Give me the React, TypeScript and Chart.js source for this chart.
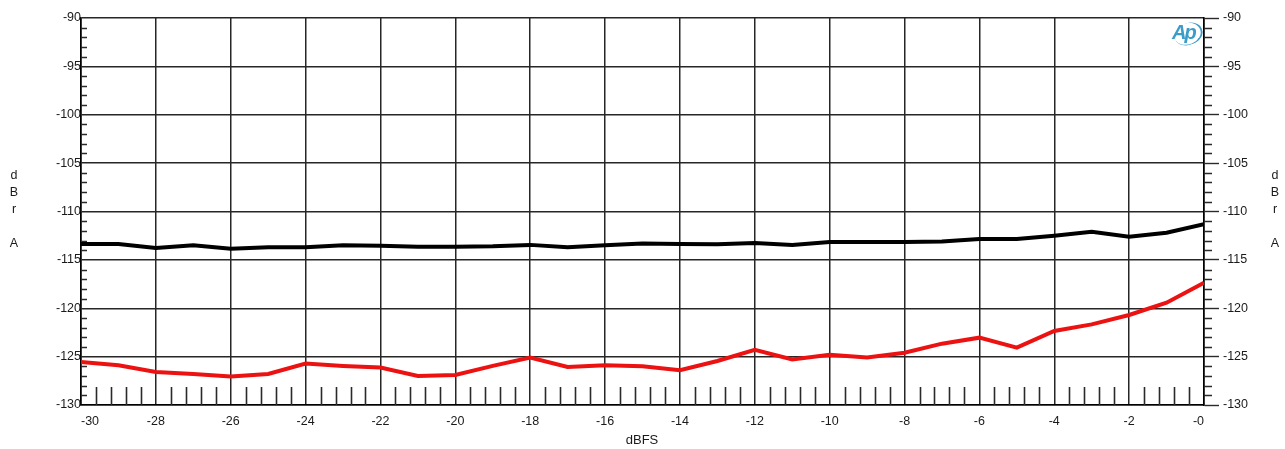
import React, { useEffect, useRef } from 'react';
import { Chart, registerables } from 'chart.js';

Chart.register(...registerables);

const xValues = [-30, -29, -28, -27, -26, -25, -24, -23, -22, -21, -20, -19, -18, -17, -16, -15, -14, -13, -12, -11, -10, -9, -8, -7, -6, -5, -4, -3, -2, -1, 0];
const blackSeries = [-113.35, -113.35, -113.76, -113.5, -113.85, -113.7, -113.7, -113.5, -113.55, -113.65, -113.65, -113.6, -113.45, -113.7, -113.5, -113.3, -113.35, -113.38, -113.25, -113.45, -113.15, -113.15, -113.15, -113.1, -112.85, -112.85, -112.5, -112.1, -112.6, -112.2, -111.3];
const redSeries = [-125.55, -125.9, -126.58, -126.8, -127.05, -126.8, -125.72, -125.96, -126.13, -127.0, -126.9, -125.96, -125.1, -126.07, -125.9, -126.0, -126.4, -125.45, -124.3, -125.3, -124.8, -125.1, -124.6, -123.66, -123.04, -124.07, -122.35, -121.67, -120.7, -119.43, -117.37];
const xTickLabels = ['-30', '-28', '-26', '-24', '-22', '-20', '-18', '-16', '-14', '-12', '-10', '-8', '-6', '-4', '-2', '-0'];
const yTickLabels = ['-130', '-125', '-120', '-115', '-110', '-105', '-100', '-95', '-90'];
const xTitle = 'dBFS';
const yTitleLines = ['d', 'B', 'r', '', 'A'];

const FONT = "'Liberation Sans', Arial, Helvetica, sans-serif";
const GRID = '#262626';
const TICK = '#2a2a2a';

const minorTicks = {
  id: 'minorTicks',
  beforeDatasetsDraw(chart: any) {
    const { ctx, chartArea } = chart;
    const y = chart.scales.y;
    const x = chart.scales.x;
    ctx.save();
    ctx.strokeStyle = TICK;
    ctx.lineWidth = 1.4;
    ctx.beginPath();
    for (let v = -129; v <= -91; v++) {
      if (v % 5 === 0) continue;
      const py = Math.round(y.getPixelForValue(v)) + 0.5;
      ctx.moveTo(chartArea.left, py);
      ctx.lineTo(chartArea.left + 6, py);
      ctx.moveTo(chartArea.right, py);
      ctx.lineTo(chartArea.right + 8, py);
    }
    ctx.stroke();
    ctx.lineWidth = 1.6;
    ctx.beginPath();
    for (let k = 0; k <= 75; k++) {
      if (k % 5 === 0) continue;
      const v = -30 + k * 0.4;
      const px = Math.round(x.getPixelForValue(v)) + 0.5;
      ctx.moveTo(px, chartArea.bottom);
      ctx.lineTo(px, chartArea.bottom - 18);
    }
    ctx.stroke();
    ctx.restore();
  },
};

function ChartView() {
  const ref = useRef<HTMLCanvasElement | null>(null);
  useEffect(() => {
    if (!ref.current) return;
    const tickFont = { family: FONT, size: 12.5 };
    const chart = new Chart(ref.current, {
      type: 'line',
      data: {
        datasets: [
          {
            label: 'A',
            data: xValues.map((x, i) => ({ x, y: blackSeries[i] })),
            borderColor: '#000000',
            borderWidth: 4,
            pointRadius: 0,
            tension: 0,
          },
          {
            label: 'B',
            data: xValues.map((x, i) => ({ x, y: redSeries[i] })),
            borderColor: 'rgb(236,18,18)',
            borderWidth: 4,
            pointRadius: 0,
            tension: 0,
          },
        ],
      },
      options: {
        animation: false,
        responsive: true,
        maintainAspectRatio: false,
        layout: { padding: { top: 18, left: 0, right: 0, bottom: 0 } },
        plugins: { legend: { display: false }, tooltip: { enabled: false } },
        scales: {
          x: {
            type: 'linear',
            min: -30,
            max: 0,
            afterFit: (s: any) => { s.height = 44; },
            grid: { color: GRID, lineWidth: 1.5, drawTicks: false },
            border: { display: true, color: '#000', width: 1.6 },
            ticks: {
              stepSize: 2,
              padding: 9,
              align: 'inner',
              maxRotation: 0,
              autoSkip: false,
              color: '#1a1a1a',
              font: tickFont,
              callback: (_v: any, i: number) => xTickLabels[i],
            },
          },
          y: {
            type: 'linear',
            position: 'left',
            min: -130,
            max: -90,
            afterFit: (s: any) => { s.width = 81; },
            grid: { color: GRID, lineWidth: 1.5, drawTicks: false },
            border: { display: true, color: '#000', width: 1.6 },
            ticks: {
              stepSize: 5,
              padding: 0,
              color: '#1a1a1a',
              font: tickFont,
              callback: (_v: any, i: number) => yTickLabels[i],
            },
          },
          y2: {
            type: 'linear',
            position: 'right',
            min: -130,
            max: -90,
            afterFit: (s: any) => { s.width = 81; },
            grid: { drawOnChartArea: false, drawTicks: true, tickLength: 15, tickColor: TICK, tickWidth: 1.4 },
            border: { display: true, color: '#000', width: 1.6 },
            ticks: {
              stepSize: 5,
              padding: 4,
              color: '#1a1a1a',
              font: tickFont,
              callback: (_v: any, i: number) => yTickLabels[i],
            },
          },
        },
      },
      plugins: [minorTicks],
    } as any);
    return () => chart.destroy();
  }, []);
  return <canvas ref={ref} />;
}

const textStyle: React.CSSProperties = {
  position: 'absolute',
  fontFamily: FONT,
  fontSize: 12.5,
  color: '#1a1a1a',
  lineHeight: '17px',
  textAlign: 'center',
};

export default function App() {
  return (
    <div style={{ position: 'fixed', left: 0, top: 0, width: 1285, height: 449, background: '#fff' }}>
      <div style={{ position: 'absolute', left: 0, top: 0, width: 1285, height: 449 }}>
        <ChartView />
      </div>
      <div style={{ ...textStyle, left: 7, top: 167, width: 14 }}>
        {yTitleLines.map((t, i) => (<div key={i}>{t || '\u00a0'}</div>))}
      </div>
      <div style={{ ...textStyle, left: 1268, top: 167, width: 14 }}>
        {yTitleLines.map((t, i) => (<div key={i}>{t || '\u00a0'}</div>))}
      </div>
      <div style={{ ...textStyle, left: 592, top: 431, width: 100, fontSize: 13 }}>{xTitle}</div>
      <div style={{ position: 'absolute', left: 1170, top: 21, width: 34, height: 26 }}>
        <div style={{ position: 'absolute', left: 4, top: 2, width: 27, height: 21, borderRadius: '50%', borderRight: '2.5px solid #3b9cc9', borderBottom: '1.5px solid #3b9cc9', transform: 'rotate(-20deg)' }} />
        <span style={{ position: 'absolute', left: 2, top: 0, fontFamily: FONT, fontStyle: 'italic', fontWeight: 'bold', fontSize: 20, color: '#3b9cc9', letterSpacing: '-2px' }}>Ap</span>
      </div>
    </div>
  );
}
